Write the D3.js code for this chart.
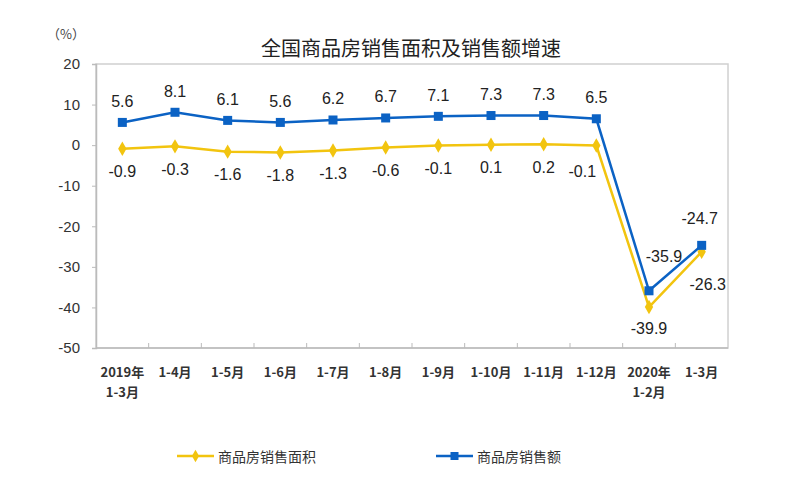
<!DOCTYPE html>
<html><head><meta charset="utf-8">
<script src="https://cdn.jsdelivr.net/npm/d3@7"></script>
<style>
html,body{margin:0;padding:0;background:#fff;}
svg{display:block;}
</style></head>
<body>
<svg id="chart" width="800" height="484"></svg>
<script>
const categories = [["2019年","1-3月"],["1-4月"],["1-5月"],["1-6月"],["1-7月"],["1-8月"],["1-9月"],["1-10月"],["1-11月"],["1-12月"],["2020年","1-2月"],["1-3月"]];
const areaGrowth = [-0.9,-0.3,-1.6,-1.8,-1.3,-0.6,-0.1,0.1,0.2,-0.1,-39.9,-26.3];
const salesGrowth = [5.6,8.1,6.1,5.6,6.2,6.7,7.1,7.3,7.3,6.5,-35.9,-24.7];
const yTicks = [20,10,0,-10,-20,-30,-40,-50];
const seriesNames = ["商品房销售面积","商品房销售额"];
const titleText = "全国商品房销售面积及销售额增速";

const W=800,H=484;
const m={left:96,right:728,top:64,bottom:348};
const svg=d3.select("#chart");
const yellow="#F2C40F", blue="#0B62C4";
const fontCN="'Noto Sans CJK SC','Noto Sans',sans-serif";
const fontNum="'Liberation Sans',Arial,sans-serif";

const x=d3.scaleBand().domain(d3.range(categories.length)).range([m.left,m.right]).padding(0);
const y=d3.scaleLinear().domain([-50,20]).range([m.bottom,m.top]);
const cx=i=>x(i)+x.bandwidth()/2;

// title
svg.append("text").attr("x",411).attr("y",47).attr("text-anchor","middle").attr("dominant-baseline","central")
  .attr("font-family",fontCN).attr("font-size",20).attr("fill","#222").text(titleText);
svg.append("text").attr("x",66).attr("y",33).attr("text-anchor","middle").attr("dominant-baseline","central")
  .attr("font-family",fontCN).attr("font-size",13).attr("fill","#444").text("（%）");

// frame
svg.append("rect").attr("x",m.left).attr("y",m.top).attr("width",m.right-m.left).attr("height",m.bottom-m.top)
  .attr("fill","none").attr("stroke","#d0d0d0").attr("stroke-width",1.5);

// y axis
const yAxis=d3.axisLeft(y).tickValues(yTicks).tickSize(4).tickPadding(12).tickFormat(d=>String(d));
const gy=svg.append("g").attr("transform",`translate(${m.left},0)`).call(yAxis);
gy.select(".domain").attr("stroke","#bbb").attr("stroke-width",1.5);
gy.selectAll(".tick line").attr("stroke","#bbb");
gy.selectAll(".tick text").attr("font-family",fontNum).attr("font-size",15).attr("fill","#333");

// x axis: tick marks at category boundaries pointing inward
const gx=svg.append("g");
gx.append("line").attr("x1",m.left).attr("x2",m.right).attr("y1",m.bottom).attr("y2",m.bottom).attr("stroke","#bbb").attr("stroke-width",1.5);
gx.selectAll("line.b").data(d3.range(1,categories.length)).join("line").attr("class","b")
  .attr("x1",i=>x(i)).attr("x2",i=>x(i)).attr("y1",m.bottom).attr("y2",m.bottom-5).attr("stroke","#bbb");
const xl=gx.selectAll("text.c").data(categories).join("text").attr("class","c")
  .attr("x",(d,i)=>cx(i)).attr("y",372).attr("text-anchor","middle")
  .attr("font-family",fontCN).attr("font-size",13).attr("font-weight","bold").attr("fill","#333");
xl.each(function(d){
  const t=d3.select(this);
  d.forEach((s,k)=>t.append("tspan").attr("x",t.attr("x")).attr("dy",k===0?"0.35em":"20").text(s));
});

// lines
const line=d3.line().x((d,i)=>cx(i)).y(d=>y(d));
svg.append("path").datum(areaGrowth).attr("d",line).attr("fill","none").attr("stroke",yellow).attr("stroke-width",2.5);
svg.append("path").datum(salesGrowth).attr("d",line).attr("fill","none").attr("stroke",blue).attr("stroke-width",2.5);

// markers
const diamond=d3.symbol().type(d3.symbolDiamond).size(60);
svg.append("g").selectAll("path").data(areaGrowth).join("path").attr("d",diamond)
  .attr("transform",(d,i)=>`translate(${cx(i)},${y(d)})`).attr("fill",yellow);
svg.append("g").selectAll("rect").data(salesGrowth).join("rect")
  .attr("x",(d,i)=>cx(i)-4.5).attr("y",d=>y(d)-4.5).attr("width",9).attr("height",9).attr("fill",blue);

// labels
const fmt=d=>d.toFixed(1);
const blueOff=i=>i===10?[15,-34]:i===11?[-2,-27]:[0,-21];
const yelOff=i=>i===9?[-14,26]:i===10?[0,21]:i===11?[6,33]:[0,23];
svg.append("g").selectAll("text").data(salesGrowth).join("text")
  .attr("x",(d,i)=>cx(i)+blueOff(i)[0]).attr("y",(d,i)=>y(d)+blueOff(i)[1])
  .attr("text-anchor","middle").attr("dominant-baseline","central")
  .attr("font-family",fontNum).attr("font-size",16).attr("fill","#222").text(d=>fmt(d));
svg.append("g").selectAll("text").data(areaGrowth).join("text")
  .attr("x",(d,i)=>cx(i)+yelOff(i)[0]).attr("y",(d,i)=>y(d)+yelOff(i)[1])
  .attr("text-anchor","middle").attr("dominant-baseline","central")
  .attr("font-family",fontNum).attr("font-size",16).attr("fill","#222").text(d=>fmt(d));

// legend
const leg=[{name:seriesNames[0],c:yellow,t:"d",x:177},{name:seriesNames[1],c:blue,t:"s",x:436}];
const lg=svg.append("g").selectAll("g").data(leg).join("g").attr("transform",d=>`translate(${d.x},456)`);
lg.append("line").attr("x1",0).attr("x2",37).attr("y1",0).attr("y2",0).attr("stroke",d=>d.c).attr("stroke-width",2.5);
lg.each(function(d){
  const g=d3.select(this);
  if(d.t==="d") g.append("path").attr("d",d3.symbol().type(d3.symbolDiamond).size(45)).attr("transform","translate(18.5,0)").attr("fill",d.c);
  else g.append("rect").attr("x",14.5).attr("y",-4).attr("width",8).attr("height",8).attr("fill",d.c);
});
lg.append("text").attr("x",41).attr("y",0).attr("dominant-baseline","central")
  .attr("font-family",fontCN).attr("font-size",14).attr("fill","#333").text(d=>d.name);
</script>
</body></html>
